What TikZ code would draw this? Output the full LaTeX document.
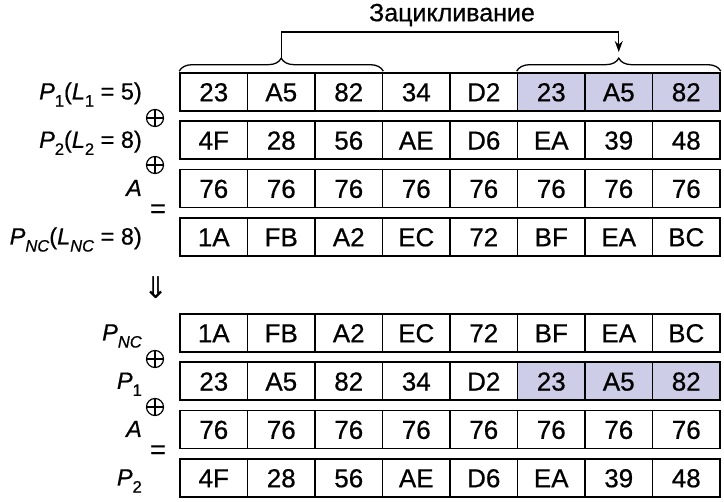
\documentclass[tikz,border=0pt]{standalone}
\usepackage{fontspec}
\setmainfont{Liberation Sans}[FakeBold=0.6]
\newfontfamily\symfont{DejaVu Sans}
\usetikzlibrary{decorations.pathreplacing,arrows.meta}
\definecolor{shade}{RGB}{205,205,232}
\newcommand\lsub[1]{\raisebox{-0.3em}{\fontsize{16.5}{16.5}\selectfont #1}}
\newcommand\cellrow[4]{%
  \foreach \t [count=\c] in {#3} {%
    \ifnum\c<#4 \def\cf{white}\else\def\cf{shade}\fi
    \node[cell, fill=\cf] (#1c\c) at ({180+67.5*(\c-0.5)}, {-(#2)-19}) {\t};
  }}
\begin{document}
\begin{tikzpicture}[x=1pt,y=1pt,
  cell/.style={draw, line width=1.6pt, minimum width=67.5pt, minimum height=38pt,
    inner sep=0pt, text height=18.5pt, text depth=0pt, font=\fontsize{26}{26}\selectfont},
  lbl/.style={anchor=base east, inner sep=0pt, font=\fontsize{23.5}{23.5}\selectfont},
  oplus/.style={circle, draw, line width=1.2pt, minimum size=17pt, inner sep=0pt,
    path picture={\draw[line width=1.2pt] (path picture bounding box.north) -- (path picture bounding box.south)
      (path picture bounding box.west) -- (path picture bounding box.east);}},
  eqsign/.style={inner sep=0pt, font=\fontsize{27}{27}\selectfont},
  bracestyle/.style={draw, line width=1.3pt, decorate, decoration={brace, amplitude=13pt}},
  loopline/.style={draw, line width=1.3pt, -{Stealth[length=11pt,width=8pt]}}
]
\useasboundingbox (0,0) rectangle (724,-502);

% rows
\cellrow{r1}{73}{23,A5,82,34,D2,23,A5,82}{6}
\cellrow{r2}{121.3}{4F,28,56,AE,D6,EA,39,48}{9}
\cellrow{r3}{169.6}{76,76,76,76,76,76,76,76}{9}
\cellrow{r4}{218}{1A,FB,A2,EC,72,BF,EA,BC}{9}
\cellrow{r5}{314}{1A,FB,A2,EC,72,BF,EA,BC}{9}
\cellrow{r6}{362.3}{23,A5,82,34,D2,23,A5,82}{6}
\cellrow{r7}{410.6}{76,76,76,76,76,76,76,76}{9}
\cellrow{r8}{459}{4F,28,56,AE,D6,EA,39,48}{9}

% labels
\node[lbl] (l1) at (142,-99.5) {\textit{P}\lsub{1}(\textit{L}\lsub{1} = 5)};
\node[lbl] (l2) at (142,-147.8) {\textit{P}\lsub{2}(\textit{L}\lsub{2} = 8)};
\node[lbl] (l3) at (142,-196) {\textit{A}};
\node[lbl] (l4) at (142,-244.5) {\textit{P}\lsub{\textit{NC}}(\textit{L}\lsub{\textit{NC}} = 8)};
\node[lbl] (l5) at (142,-340.5) {\textit{P}\lsub{\textit{NC}}};
\node[lbl] (l6) at (142,-388.8) {\textit{P}\lsub{1}};
\node[lbl] (l7) at (142,-437) {\textit{A}};
\node[lbl] (l8) at (142,-485.5) {\textit{P}\lsub{2}};

% operators
\node[oplus] (o1) at (155,-118) {};
\node[oplus] (o2) at (155,-165) {};
\node[eqsign] (e1) at (158,-211) {=};
\node[inner sep=0pt, font=\symfont\fontsize{30}{30}\selectfont] (dn) at (156,-288) {⇓};
\node[oplus] (o3) at (155,-359) {};
\node[oplus] (o4) at (155,-407) {};
\node[eqsign] (e2) at (158,-452) {=};

% braces and loop arrow
\draw[bracestyle] ([yshift=1pt]r1c1.north west) -- ([yshift=1pt]r1c3.north east);
\draw[bracestyle] ([yshift=1pt]r1c6.north west) -- ([yshift=1pt]r1c8.north east);
\coordinate (bl) at (281.25,-58);
\coordinate (br) at (618.75,-52);
\coordinate (corner) at (281.25,-32);
\draw[loopline] (bl) -- (corner) -| (br);
\node[inner sep=0pt, font=\fontsize{25}{25}\selectfont] (title) at (452,-15) {Зацикливание};
\end{tikzpicture}
\end{document}
